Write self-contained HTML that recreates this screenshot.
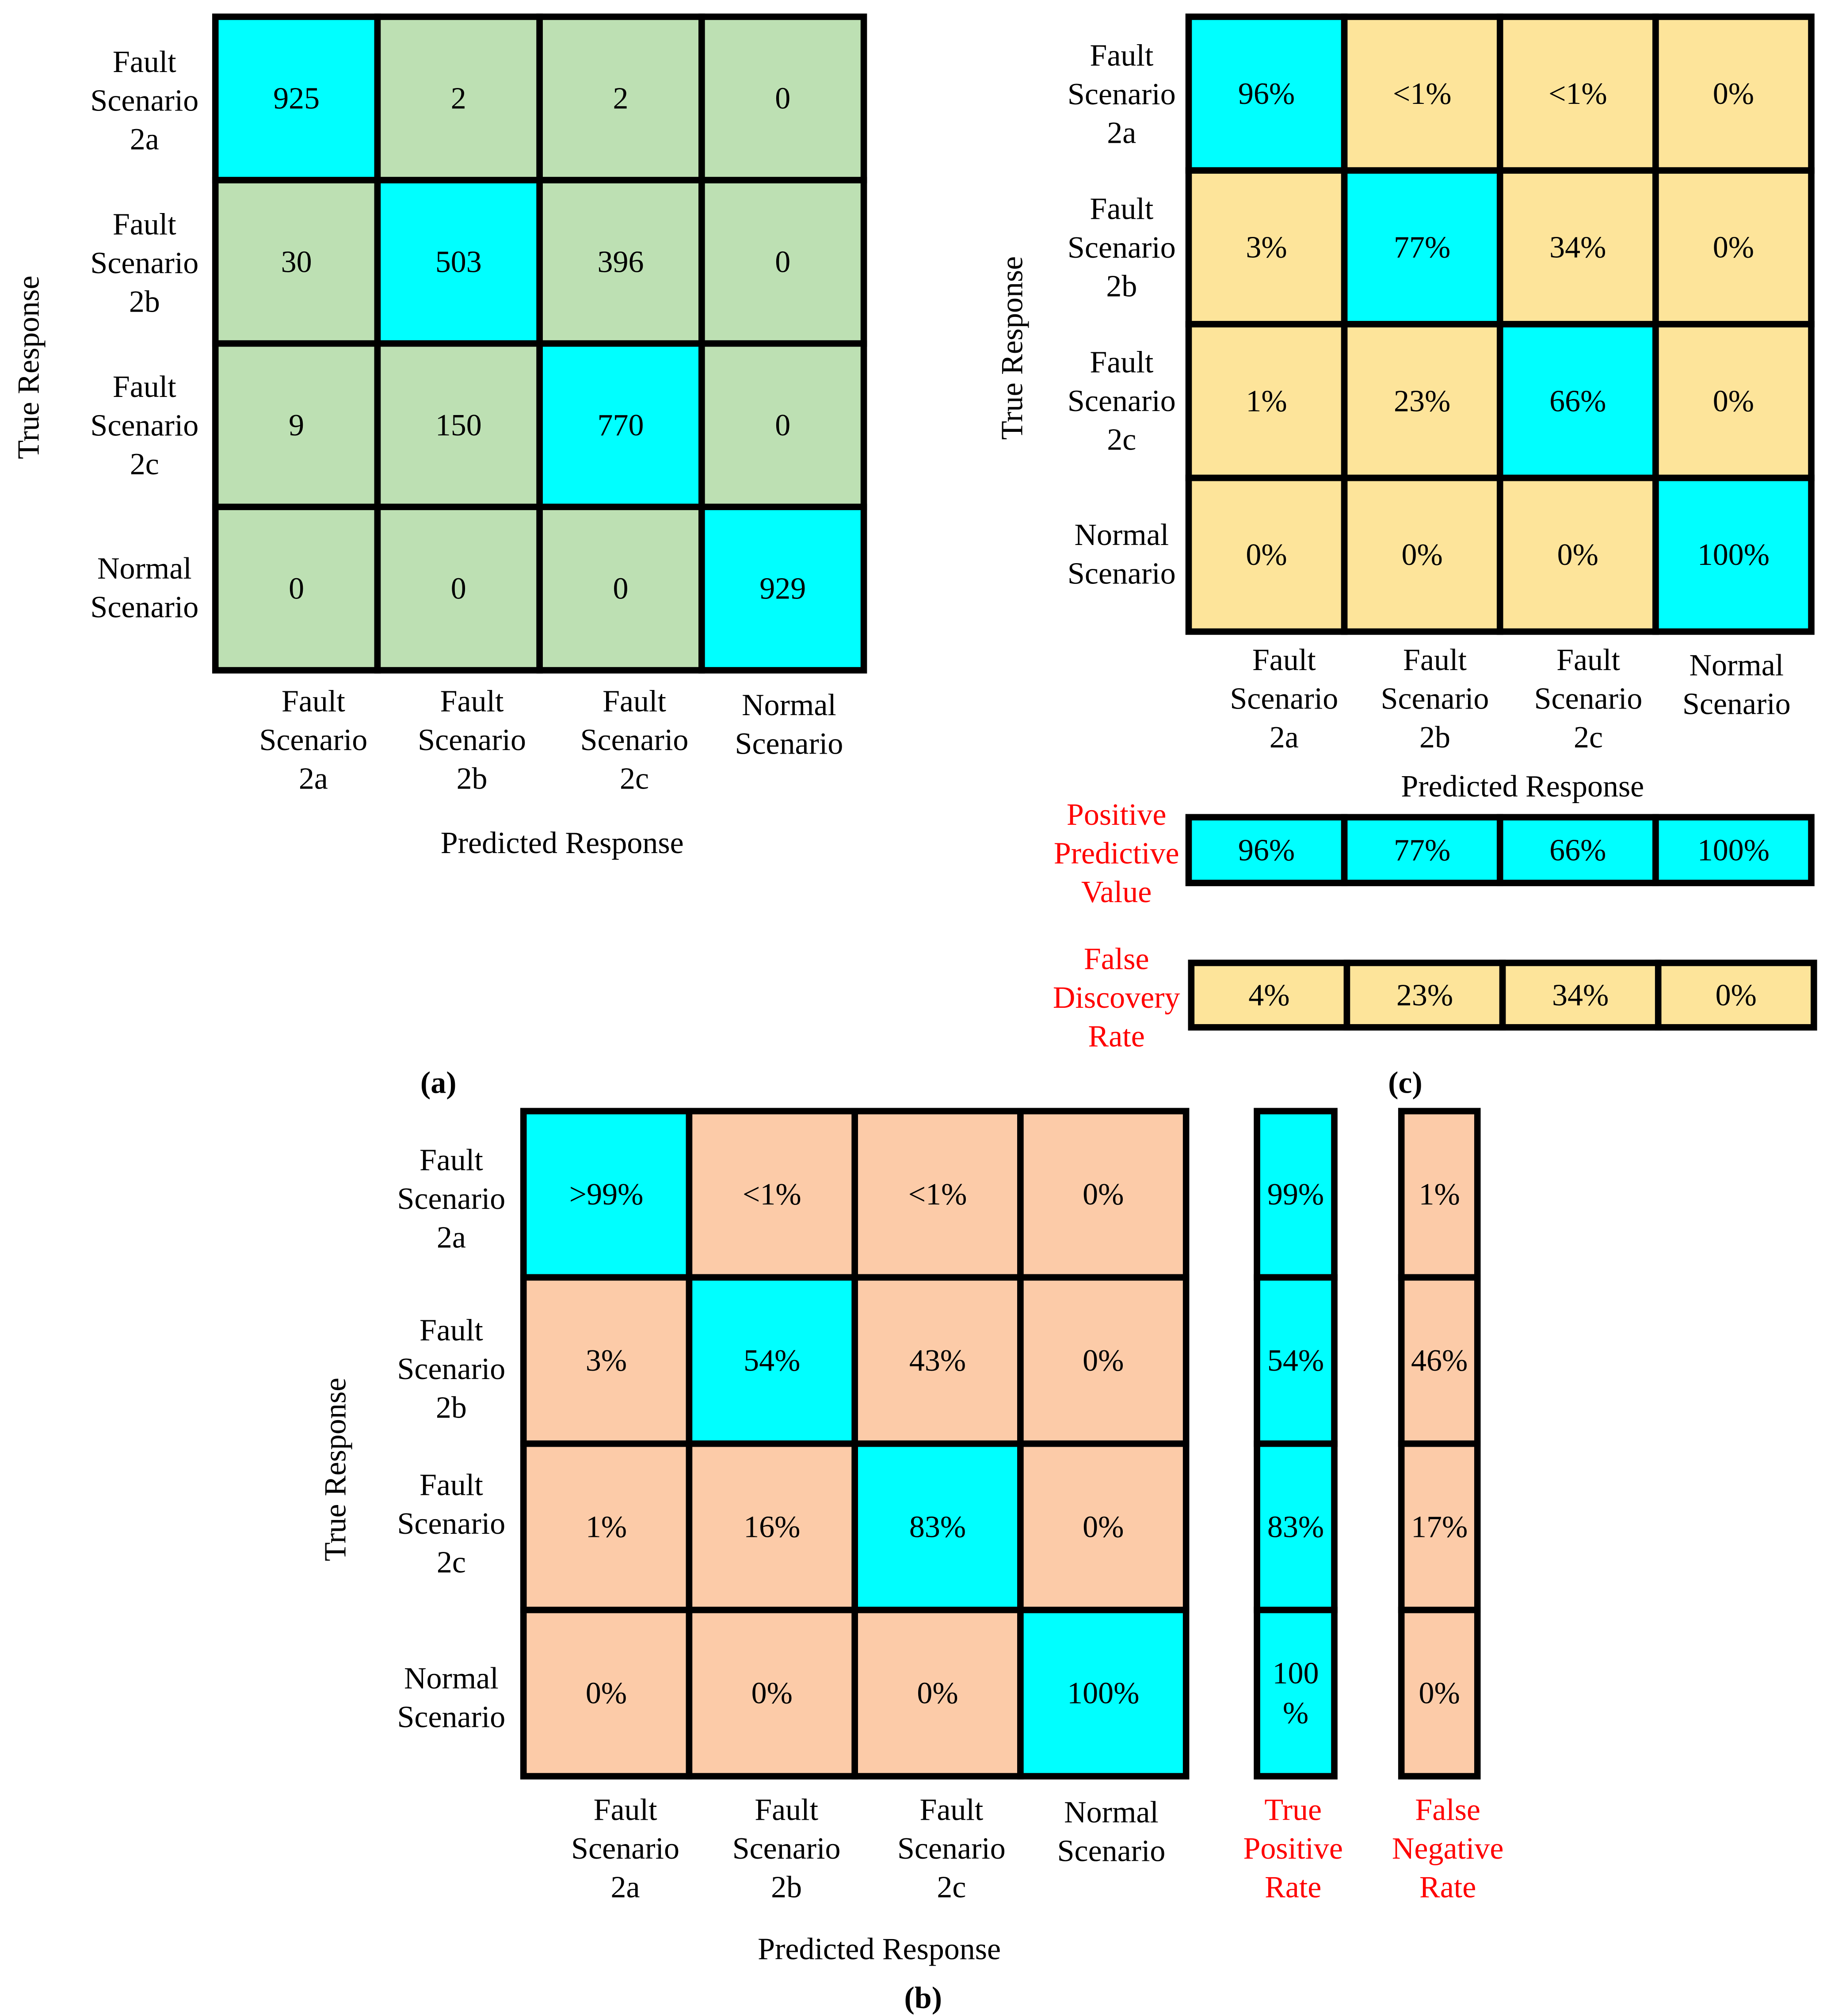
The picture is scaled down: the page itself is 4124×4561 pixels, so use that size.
<!DOCTYPE html>
<html><head><meta charset="utf-8"><style>
html,body{margin:0;padding:0;background:#fff;}
svg{display:block;}
text{font-family:"Liberation Serif",serif;font-size:24px;}
</style></head><body>
<svg id="fig" width="4124" height="4561" viewBox="0 0 1414 1564" xmlns="http://www.w3.org/2000/svg"></svg>
<script>
const classLabels = [["Fault","Scenario","2a"],["Fault","Scenario","2b"],["Fault","Scenario","2c"],["Normal","Scenario"]];
const countsA = [[925,2,2,0],[30,503,396,0],[9,150,770,0],[0,0,0,929]];
const pctC = [["96%","<1%","<1%","0%"],["3%","77%","34%","0%"],["1%","23%","66%","0%"],["0%","0%","0%","100%"]];
const ppv = ["96%","77%","66%","100%"];
const fdr = ["4%","23%","34%","0%"];
const pctB = [[">99%","<1%","<1%","0%"],["3%","54%","43%","0%"],["1%","16%","83%","0%"],["0%","0%","0%","100%"]];
const tpr = ["99%","54%","83%","100\n%"];
const fnr = ["1%","46%","17%","0%"];

const svg = document.getElementById('fig');
const NS = 'http://www.w3.org/2000/svg';
function mk(tag, attrs, parent){const e=document.createElementNS(NS,tag);for(const k in attrs)e.setAttribute(k,attrs[k]);(parent||svg).appendChild(e);return e;}
function txt(lines, x, y, lh, opts, parent){
  opts=opts||{};
  const t=mk('text',{x:x,y:y,'text-anchor':'middle','dominant-baseline':'central'},parent);
  t.style.fill=opts.fill||'#000';
  if(opts.weight)t.style.fontWeight=opts.weight;
  if(opts.transform)t.setAttribute('transform',opts.transform);
  const n=lines.length;
  lines.forEach((l,i)=>{const s=mk('tspan',{x:x,y:y+(i-(n-1)/2)*lh},t);s.textContent=l;});
  return t;
}
function grid(name, x0, x1, y0, y1, values, diagColor, offColor, diagFn){
  const g=mk('g',{});
  
  
  const rows=values.length, cols=values[0].length;
  const cw=(x1-x0)/cols, ch=(y1-y0)/rows;
  for(let r=0;r<rows;r++)for(let c=0;c<cols;c++){
    const rc=mk('rect',{x:x0+c*cw,y:y0+r*ch,width:cw,height:ch,fill:diagFn(r,c)?diagColor:offColor,stroke:'#000','stroke-width':5},g);
    
    
    const lines=String(values[r][c]).split('\n');
    const t=txt(lines,x0+(c+0.5)*cw,y0+(r+0.5)*ch,31,{},g);
    
    
  }
  return g;
}
function label(lines,x,y,name,opts){
  const t=txt(lines,x,y,30,opts);
  
  
  return t;
}
const diag=(r,c)=>r===c;
const CYAN='#00ffff';
const RED='#ff0000';

// (a)
grid('matrix-a',167,670,13,520,countsA,CYAN,'#bde0b3',diag);
[78,204,330,456].forEach((y,i)=>label(classLabels[i],112,y,'row-label-a'));
[243,366,492,612].forEach((x,i)=>label(classLabels[i],x,i<3?574:562,'col-label-a'));
label(['Predicted Response'],436,654,'x-axis-title-a');
label(['True Response'],22,285,'y-axis-title-a',{transform:'rotate(-90 22 285)'});
label(['(a)'],340,840,'panel-label-a',{weight:'bold'});

// (c)
grid('matrix-c',922,1405,13,490,pctC,CYAN,'#fde49a',diag);
[73,192,311,430].forEach((y,i)=>label(classLabels[i],870,y,'row-label-c'));
[996,1113,1232,1347].forEach((x,i)=>label(classLabels[i],x,i<3?542:531,'col-label-c'));
label(['Predicted Response'],1181,610,'x-axis-title-c');
label(['True Response'],785,270,'y-axis-title-c',{transform:'rotate(-90 785 270)'});
grid('ppv-row',922,1405,634,685,[ppv],CYAN,CYAN,()=>true);
label(['Positive','Predictive','Value'],866,662,'ppv-label',{fill:RED});
grid('fdr-row',924,1407,747,797,[fdr],'#fde49a','#fde49a',()=>true);
label(['False','Discovery','Rate'],866,774,'fdr-label',{fill:RED});
label(['(c)'],1090,840,'panel-label-c',{weight:'bold'});

// (b)
grid('matrix-b',406,920,862,1378,pctB,CYAN,'#fccba8',diag);
[930,1062,1182,1317].forEach((y,i)=>label(classLabels[i],350,y,'row-label-b'));
[485,610,738,862].forEach((x,i)=>label(classLabels[i],x,i<3?1434:1421,'col-label-b'));
label(['Predicted Response'],682,1512,'x-axis-title-b');
label(['True Response'],260,1140,'y-axis-title-b',{transform:'rotate(-90 260 1140)'});
grid('tpr-column',975,1035,862,1378,tpr.map(v=>[v]),CYAN,CYAN,()=>true);
grid('fnr-column',1087,1146,862,1378,fnr.map(v=>[v]),'#fccba8','#fccba8',()=>true);
label(['True','Positive','Rate'],1003,1434,'tpr-label',{fill:RED});
label(['False','Negative','Rate'],1123,1434,'fnr-label',{fill:RED});
label(['(b)'],716,1550,'panel-label-b',{weight:'bold'});
</script>
</body></html>
